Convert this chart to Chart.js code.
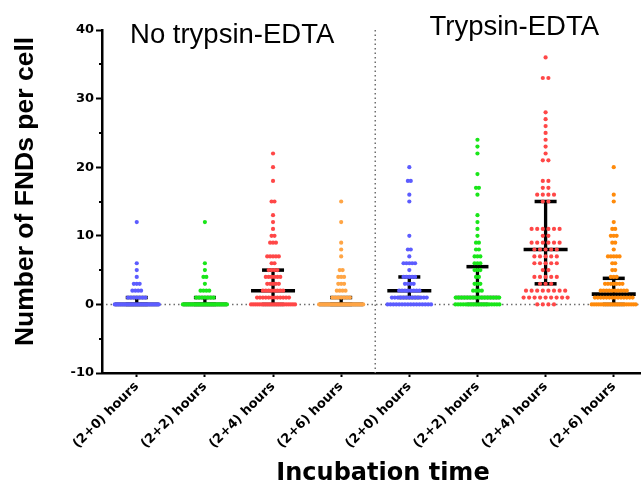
<!DOCTYPE html>
<html><head><meta charset="utf-8">
<script src="https://cdn.jsdelivr.net/npm/chart.js@4"></script>
<style>html,body{margin:0;padding:0;background:#fff;}canvas{display:block;}</style>
</head><body>
<canvas id="c" width="641" height="485"></canvas>
<script>
// ---------- data ----------
const categories = ['(2+0) hours','(2+2) hours','(2+4) hours','(2+6) hours','(2+0) hours','(2+2) hours','(2+4) hours','(2+6) hours'];
const panelTitles = ['No trypsin-EDTA','Trypsin-EDTA'];
const xTitle = 'Incubation time';
const yTitle = 'Number of FNDs per cell';

// each group: distinct values and how many cells had that value
const noTryp0hVals   = [0,1,2,3,4,5,6,12];
const noTryp0hCounts = [24,7,4,3,1,1,1,1];
const noTryp2hVals   = [0,1,2,3,4,5,6,12];
const noTryp2hCounts = [24,7,4,1,2,1,1,1];
const noTryp4hVals   = [0,1,2,3,4,5,6,7,9,10,11,12,13,15,18,20,22];
const noTryp4hCounts = [22,12,8,5,6,4,2,5,3,2,1,1,1,2,1,1,1];
const noTryp6hVals   = [0,1,2,3,4,5,7,8,9,12,15];
const noTryp6hCounts = [24,7,4,3,3,2,1,1,1,1,1];
const tryp0hVals     = [0,1,2,3,4,5,6,7,8,10,15,16,18,20];
const tryp0hCounts   = [16,13,8,4,5,1,5,1,2,1,1,1,2,1];
const tryp2hVals     = [0,1,2,3,4,5,6,7,8,9,10,11,12,13,16,17,19,22,23,24];
const tryp2hCounts   = [18,16,4,3,2,3,3,3,2,2,1,1,1,1,1,2,1,1,1,1];
const tryp4hVals     = [0,1,2,3,4,5,6,7,8,9,10,11,15,16,17,18,21,22,23,24,25,26,27,28,33,36];
const tryp4hCounts   = [4,9,8,3,5,2,5,5,5,6,2,6,2,4,2,2,2,1,1,1,1,1,1,1,2,1];
const tryp6hVals     = [0,1,2,3,4,5,6,7,8,9,10,11,12,15,16,20];
const tryp6hCounts   = [20,14,10,7,3,2,2,5,1,2,3,2,1,1,1,1];

// median and interquartile range shown by the black bars
const medians = [0,0,2,0,2,1,8,1.5];
const q1s     = [0,0,0,0,1,0,3,0];
const q3s     = [1,1,5,1,4,5.5,15,3.8];

// ---------- styling / layout ----------
const groupVals   = [noTryp0hVals,noTryp2hVals,noTryp4hVals,noTryp6hVals,tryp0hVals,tryp2hVals,tryp4hVals,tryp6hVals];
const groupCounts = [noTryp0hCounts,noTryp2hCounts,noTryp4hCounts,noTryp6hCounts,tryp0hCounts,tryp2hCounts,tryp4hCounts,tryp6hCounts];
const colors  = ['#5c5cff','#19e619','#ff4747','#ffa545','#5c5cff','#19e619','#ff4747','#ff8a0a'];
const dotGap  = [2.9,2.9,2.9,2.9,2.9,2.9,5.6,2.9];
const pxPerUnit = 68.14, maxRowPx = 44;

function swarm(gi){
  const pts=[];
  groupVals[gi].forEach((v,k)=>{
    const n=groupCounts[gi][k];
    const sp = n>1 ? Math.min(dotGap[gi], maxRowPx/(n-1)) : 0;
    for(let j=0;j<n;j++) pts.push({x: gi + (j-(n-1)/2)*sp/pxPerUnit, y: v});
  });
  return pts;
}

const datasets = [];
categories.forEach((c,gi)=>{
  datasets.push({type:'scatter', data: swarm(gi), backgroundColor: colors[gi], borderWidth:0, pointRadius:2.1, pointStyle:'circle'});
});
const whisker = [];
categories.forEach((c,i)=>{ whisker.push({x:i,y:q1s[i]},{x:i,y:q3s[i]},{x:i+0.5,y:null}); });
datasets.push({type:'scatter', showLine:true, spanGaps:false, data: whisker, borderColor:'#000', borderWidth:3.3, pointRadius:0});
datasets.push({type:'scatter', data: categories.map((c,i)=>({x:i,y:q1s[i]})).concat(categories.map((c,i)=>({x:i,y:q3s[i]}))),
  pointStyle:'line', pointRadius:11, borderColor:'#000', borderWidth:3.5, backgroundColor:'#000'});
datasets.push({type:'scatter', data: categories.map((c,i)=>({x:i,y:medians[i]})),
  pointStyle:'line', pointRadius:22, borderColor:'#000', borderWidth:3.6, backgroundColor:'#000'});

const refLines = {
  id:'refLines',
  beforeDatasetsDraw(chart){
    const {ctx, chartArea:a, scales:{x,y}} = chart;
    ctx.save();
    ctx.strokeStyle='#6e6e6e'; ctx.lineWidth=1.5; ctx.setLineDash([1.5,3]);
    const y0=y.getPixelForValue(0);
    ctx.beginPath(); ctx.moveTo(a.left+4,y0); ctx.lineTo(a.right,y0); ctx.stroke();
    const xd=x.getPixelForValue(3.5);
    ctx.beginPath(); ctx.moveTo(xd,a.top); ctx.lineTo(xd,a.bottom); ctx.stroke();
    ctx.restore();
  },
  afterDraw(chart){
    const {ctx, chartArea:a, scales:{x,y}} = chart;
    ctx.save();
    // minor y ticks
    ctx.strokeStyle='#000'; ctx.lineWidth=2;
    [-5,5,15,25,35].forEach(v=>{const p=Math.round(y.getPixelForValue(v));ctx.beginPath();ctx.moveTo(a.left-3,p);ctx.lineTo(a.left,p);ctx.stroke();});
    ctx.fillStyle='#000';
    ctx.textBaseline='alphabetic'; ctx.textAlign='center';
    ctx.font='27.5px "Liberation Sans", Arial, sans-serif';
    ctx.fillText(panelTitles[0], x.getPixelForValue(1.4), 43);
    ctx.fillText(panelTitles[1], x.getPixelForValue(5.54), 35);
    ctx.font='bold 24px "DejaVu Sans", sans-serif';
    ctx.fillText(xTitle, 383, 480);
    ctx.translate(32.5, 191.5); ctx.rotate(-Math.PI/2);
    ctx.font='bold 26.5px "Liberation Sans", Arial, sans-serif';
    ctx.fillText(yTitle, 0, 0);
    ctx.restore();
  }
};

new Chart(document.getElementById('c'), {
  type:'scatter',
  data:{datasets},
  plugins:[refLines],
  options:{
    responsive:false, animation:false, devicePixelRatio:1, events:[],
    layout:{autoPadding:false, padding:{top:30,left:0,right:0,bottom:0}},
    plugins:{legend:{display:false}, tooltip:{enabled:false}},
    scales:{
      x:{type:'linear', min:-0.51, max:7.40,
        afterBuildTicks(s){ s.ticks = categories.map((c,i)=>({value:i})); },
        afterFit(s){ s.height = 112; s.paddingLeft = 0; s.paddingRight = 0; },
        ticks:{autoSkip:false, minRotation:45, maxRotation:45, padding:2, color:'#000',
          font:{family:'"DejaVu Sans", sans-serif', weight:'bold', size:13}},
        grid:{display:true, drawOnChartArea:false, drawTicks:true, tickLength:4, tickWidth:2, tickColor:'#000'},
        border:{display:true, color:'#000', width:2.5}
      },
      y:{type:'linear', min:-10, max:40,
        afterFit(s){ s.width = 102; s.paddingTop = 0; s.paddingBottom = 0; },
        ticks:{stepSize:10, padding:2, color:'#000',
          font:{family:'"DejaVu Sans", sans-serif', weight:'bold', size:13}},
        grid:{display:true, drawOnChartArea:false, drawTicks:true, tickLength:6, tickWidth:2, tickColor:'#000'},
        border:{display:true, color:'#000', width:2.5}
      }
    }
  }
});
// tick label text comes from the categories array
Chart.getChart('c').options.scales.x.ticks.callback = (v)=>categories[v];
Chart.getChart('c').update();
</script>
</body></html>
